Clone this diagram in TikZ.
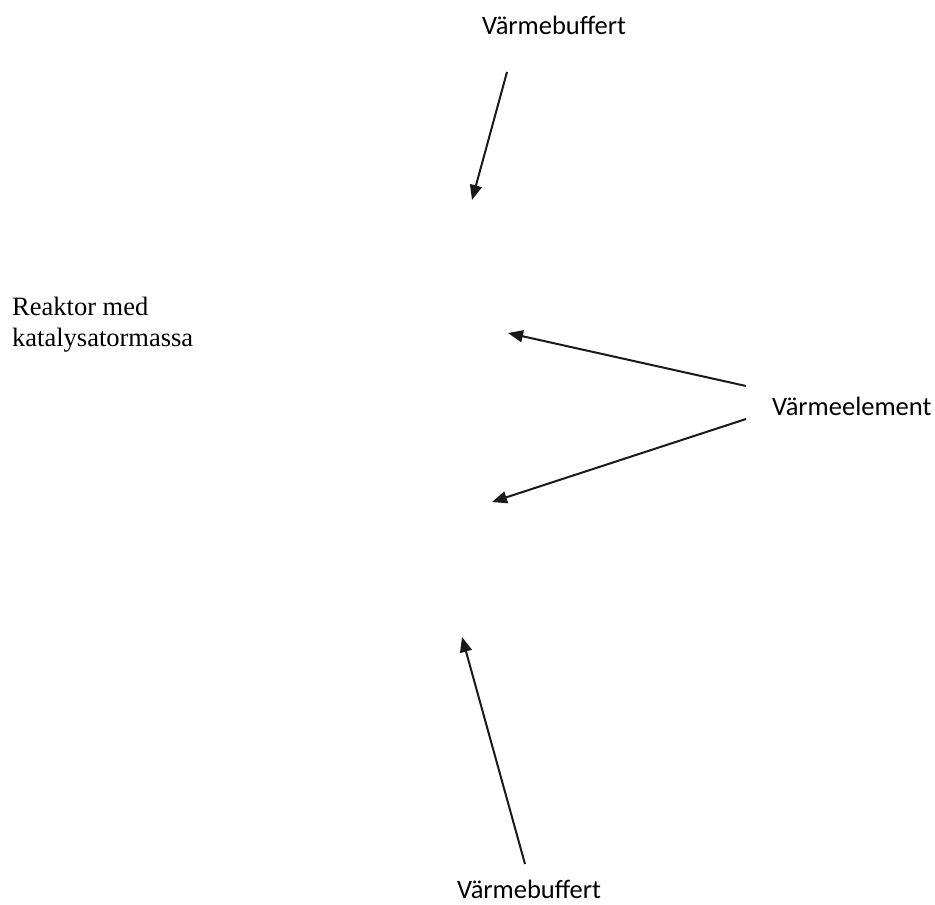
\documentclass[tikz,border=0pt]{standalone}
\usepackage{fontspec}
\usetikzlibrary{arrows.meta}
\newfontfamily\bufferfont{Carlito}
\newfontfamily\reaktorfont{Liberation Serif}
\newcommand{\vb}{V\"armebuffert}

\begin{document}
\begin{tikzpicture}[x=1pt, y=-1pt,
  lbl/.style={inner sep=0pt, anchor=base west, font=\bufferfont\fontsize{26.5}{31}\selectfont},
  flow/.style={-{Triangle[length=15pt,width=12pt]}, line width=2pt, black!90}]
\useasboundingbox (0,0) rectangle (935,905);

% Labels
\node[lbl] (buftop) at (482,34) {\vb};
\node[lbl] (element) at (772,415) {V\"armeelement};
\node[lbl] (bufbot) at (457,898) {\vb};
\node[inner sep=0pt, anchor=base west, align=left,
  font=\reaktorfont\fontsize{26.5}{31}\selectfont] (reaktor) at (12,346) {Reaktor med\\katalysatormassa};

% Arrow ends
\coordinate (t1s) at (507,72);   \coordinate (t1e) at (472,200);
\coordinate (e1s) at (746,386);  \coordinate (e1e) at (508,333);
\coordinate (e2s) at (746,419);  \coordinate (e2e) at (492,502);
\coordinate (b1s) at (525,864);  \coordinate (b1e) at (462,637);

% Arrows
\draw[flow] (t1s) -- (t1e);
\draw[flow] (e1s) -- (e1e);
\draw[flow] (e2s) -- (e2e);
\draw[flow] (b1s) -- (b1e);
\end{tikzpicture}
\end{document}
